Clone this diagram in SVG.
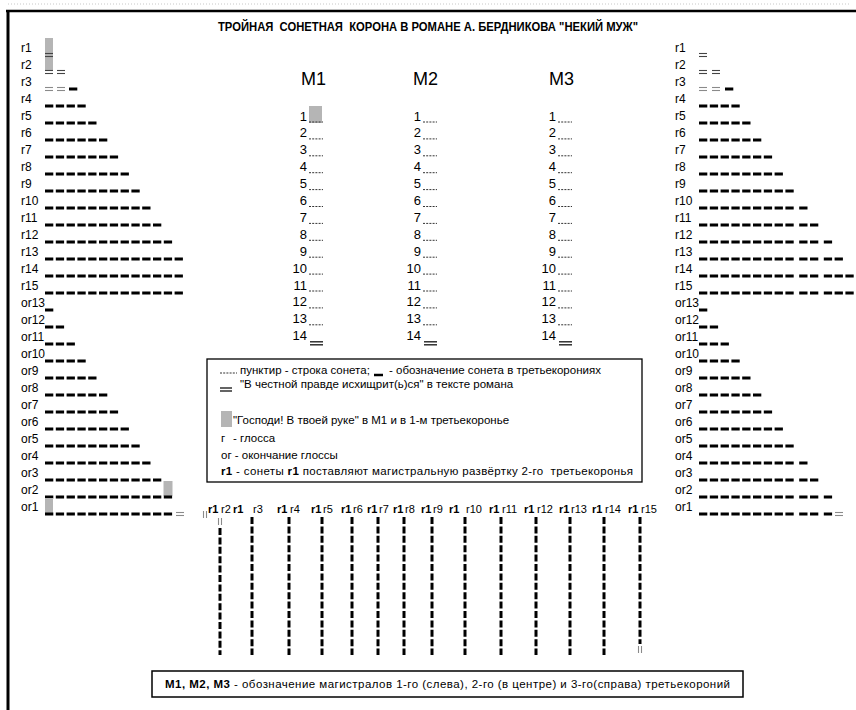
<svg xmlns="http://www.w3.org/2000/svg" width="856" height="710" viewBox="0 0 856 710">
<style>
text{font-family:"Liberation Sans",Arial,sans-serif;fill:#000}
.lb{font-size:12px}
.n{font-family:"Liberation Sans Narrow","Liberation Sans",Arial,sans-serif;font-size:13px;text-anchor:end}
.mh{font-size:18px}
.lg{font-size:11.5px}
.bt{font-size:11px}
.b{font-weight:bold}
.d{stroke:#000;stroke-width:3;stroke-dasharray:8.3 2.5;fill:none}
.vd{stroke:#000;stroke-width:3;stroke-dasharray:7 2.4;fill:none}
.dt{stroke:#333;stroke-width:1;stroke-dasharray:2 1.2}
.e{stroke:#444;stroke-width:1.1}
.eg{stroke:#8a8a8a;stroke-width:1.1}
.em{stroke:#222;stroke-width:1.4}
.gr{fill:#b5b5b5}
</style>
<defs>
<g id="eq"><line x1="0" y1="-1.5" x2="8" y2="-1.5"/><line x1="0" y1="1.5" x2="8" y2="1.5"/></g>
<g id="veq"><line x1="-1.5" y1="0" x2="-1.5" y2="7"/><line x1="1.5" y1="0" x2="1.5" y2="7"/></g>
</defs>
<g id="frame">
<line x1="8" y1="4" x2="850" y2="4" stroke="#c8c8c8" stroke-width="1" stroke-dasharray="1 2"/>
<line x1="6" y1="11" x2="856" y2="11" stroke="#000" stroke-width="2.5"/>
<line x1="8" y1="10" x2="8" y2="710" stroke="#000" stroke-width="3"/>
</g>
<g id="title">
<text x="428" y="31" text-anchor="middle" xml:space="preserve" style="font-family:'Liberation Sans Narrow','Liberation Sans',Arial,sans-serif;font-size:12.5px;font-weight:bold" textLength="420" lengthAdjust="spacingAndGlyphs">ТРОЙНАЯ  СОНЕТНАЯ  КОРОНА В РОМАНЕ А. БЕРДНИКОВА "НЕКИЙ МУЖ"</text>
</g>
<g id="left-crown">
<text class="lb" x="21" y="52">r1</text>
<text class="lb" x="21" y="69">r2</text>
<text class="lb" x="21" y="86">r3</text>
<text class="lb" x="21" y="103">r4</text>
<text class="lb" x="21" y="120">r5</text>
<text class="lb" x="21" y="137">r6</text>
<text class="lb" x="21" y="154">r7</text>
<text class="lb" x="21" y="171">r8</text>
<text class="lb" x="21" y="188">r9</text>
<text class="lb" x="21" y="205">r10</text>
<text class="lb" x="21" y="222">r11</text>
<text class="lb" x="21" y="239">r12</text>
<text class="lb" x="21" y="256">r13</text>
<text class="lb" x="21" y="273">r14</text>
<text class="lb" x="21" y="290">r15</text>
<text class="lb" x="21" y="307">or13</text>
<text class="lb" x="21" y="324">or12</text>
<text class="lb" x="21" y="341">or11</text>
<text class="lb" x="21" y="358">or10</text>
<text class="lb" x="21" y="375">or9</text>
<text class="lb" x="21" y="392">or8</text>
<text class="lb" x="21" y="409">or7</text>
<text class="lb" x="21" y="426">or6</text>
<text class="lb" x="21" y="443">or5</text>
<text class="lb" x="21" y="460">or4</text>
<text class="lb" x="21" y="477">or3</text>
<text class="lb" x="21" y="494">or2</text>
<text class="lb" x="21" y="511">or1</text>
<rect class="gr" x="45" y="38" width="8" height="33"/>
<use href="#eq" class="e" x="45" y="55"/>
<use href="#eq" class="e" x="45" y="72"/><use href="#eq" class="e" x="57" y="72"/>
<use href="#eq" class="eg" x="45" y="89"/><use href="#eq" class="eg" x="57" y="89"/>
<line class="d" x1="69" y1="89" x2="77.3" y2="89"/>
<line class="d" x1="45" y1="106" x2="85.7" y2="106"/>
<line class="d" x1="45" y1="123" x2="96.5" y2="123"/>
<line class="d" x1="45" y1="140" x2="107.3" y2="140"/>
<line class="d" x1="45" y1="157" x2="118.1" y2="157"/>
<line class="d" x1="45" y1="174" x2="128.9" y2="174"/>
<line class="d" x1="45" y1="191" x2="139.7" y2="191"/>
<line class="d" x1="45" y1="208" x2="150.5" y2="208"/>
<line class="d" x1="45" y1="225" x2="161.3" y2="225"/>
<line class="d" x1="45" y1="242" x2="172.1" y2="242"/>
<line class="d" x1="45" y1="259" x2="182.9" y2="259"/>
<line class="d" x1="45" y1="276" x2="182.9" y2="276"/>
<line class="d" x1="45" y1="293" x2="182.9" y2="293"/>
<line class="d" x1="45" y1="310" x2="53.3" y2="310"/>
<line class="d" x1="45" y1="327" x2="64.1" y2="327"/>
<line class="d" x1="45" y1="344" x2="74.9" y2="344"/>
<line class="d" x1="45" y1="361" x2="85.7" y2="361"/>
<line class="d" x1="45" y1="378" x2="96.5" y2="378"/>
<line class="d" x1="45" y1="395" x2="107.3" y2="395"/>
<line class="d" x1="45" y1="412" x2="118.1" y2="412"/>
<line class="d" x1="45" y1="429" x2="128.9" y2="429"/>
<line class="d" x1="45" y1="446" x2="139.7" y2="446"/>
<line class="d" x1="45" y1="463" x2="150.5" y2="463"/>
<line class="d" x1="45" y1="480" x2="161.3" y2="480"/>
<rect class="gr" x="163.5" y="481" width="9" height="15"/>
<line class="d" x1="45" y1="497" x2="172.1" y2="497"/>
<rect class="gr" x="45" y="498" width="8" height="15"/>
<line class="d" x1="45" y1="514" x2="172.1" y2="514"/>
<use href="#eq" class="eg" x="176" y="514"/>
</g>
<g id="right-crown">
<text class="lb" x="675" y="52">r1</text>
<text class="lb" x="675" y="69">r2</text>
<text class="lb" x="675" y="86">r3</text>
<text class="lb" x="675" y="103">r4</text>
<text class="lb" x="675" y="120">r5</text>
<text class="lb" x="675" y="137">r6</text>
<text class="lb" x="675" y="154">r7</text>
<text class="lb" x="675" y="171">r8</text>
<text class="lb" x="675" y="188">r9</text>
<text class="lb" x="675" y="205">r10</text>
<text class="lb" x="675" y="222">r11</text>
<text class="lb" x="675" y="239">r12</text>
<text class="lb" x="675" y="256">r13</text>
<text class="lb" x="675" y="273">r14</text>
<text class="lb" x="675" y="290">r15</text>
<text class="lb" x="675" y="307">or13</text>
<text class="lb" x="675" y="324">or12</text>
<text class="lb" x="675" y="341">or11</text>
<text class="lb" x="675" y="358">or10</text>
<text class="lb" x="675" y="375">or9</text>
<text class="lb" x="675" y="392">or8</text>
<text class="lb" x="675" y="409">or7</text>
<text class="lb" x="675" y="426">or6</text>
<text class="lb" x="675" y="443">or5</text>
<text class="lb" x="675" y="460">or4</text>
<text class="lb" x="675" y="477">or3</text>
<text class="lb" x="675" y="494">or2</text>
<text class="lb" x="675" y="511">or1</text>
<use href="#eq" class="e" x="699" y="55"/>
<use href="#eq" class="e" x="699" y="72"/><use href="#eq" class="e" x="712" y="72"/>
<use href="#eq" class="eg" x="699" y="89"/><use href="#eq" class="eg" x="712" y="89"/>
<line class="d" x1="725" y1="89" x2="733.3" y2="89"/>
<line class="d" x1="699" y1="106" x2="739.7" y2="106"/>
<line class="d" x1="699" y1="123" x2="750.5" y2="123"/>
<line class="d" x1="699" y1="140" x2="761.3" y2="140"/>
<line class="d" x1="699" y1="157" x2="772.1" y2="157"/>
<line class="d" x1="699" y1="174" x2="782.9" y2="174"/>
<line class="d" x1="699" y1="191" x2="793.7" y2="191"/>
<line class="d" x1="699" y1="208" x2="793.7" y2="208"/><line class="d" x1="799.2" y1="208" x2="807.5" y2="208"/>
<line class="d" x1="699" y1="225" x2="793.7" y2="225"/><line class="d" x1="799.2" y1="225" x2="818.3" y2="225"/>
<line class="d" x1="699" y1="242" x2="793.7" y2="242"/><line class="d" x1="799.2" y1="242" x2="818.3" y2="242"/><line class="d" x1="823.8" y1="242" x2="832.1" y2="242"/>
<line class="d" x1="699" y1="259" x2="793.7" y2="259"/><line class="d" x1="799.2" y1="259" x2="818.3" y2="259"/><line class="d" x1="823.8" y1="259" x2="842.9" y2="259"/>
<line class="d" x1="699" y1="276" x2="793.7" y2="276"/><line class="d" x1="799.2" y1="276" x2="818.3" y2="276"/><line class="d" x1="823.8" y1="276" x2="853.7" y2="276"/>
<line class="d" x1="699" y1="293" x2="793.7" y2="293"/><line class="d" x1="799.2" y1="293" x2="818.3" y2="293"/><line class="d" x1="823.8" y1="293" x2="853.7" y2="293"/>
<line class="d" x1="699" y1="310" x2="707.3" y2="310"/>
<line class="d" x1="699" y1="327" x2="718.1" y2="327"/>
<line class="d" x1="699" y1="344" x2="728.9" y2="344"/>
<line class="d" x1="699" y1="361" x2="739.7" y2="361"/>
<line class="d" x1="699" y1="378" x2="750.5" y2="378"/>
<line class="d" x1="699" y1="395" x2="761.3" y2="395"/>
<line class="d" x1="699" y1="412" x2="772.1" y2="412"/>
<line class="d" x1="699" y1="429" x2="782.9" y2="429"/>
<line class="d" x1="699" y1="446" x2="793.7" y2="446"/>
<line class="d" x1="699" y1="463" x2="793.7" y2="463"/><line class="d" x1="799.2" y1="463" x2="807.5" y2="463"/>
<line class="d" x1="699" y1="480" x2="793.7" y2="480"/><line class="d" x1="799.2" y1="480" x2="818.3" y2="480"/>
<line class="d" x1="699" y1="497" x2="793.7" y2="497"/><line class="d" x1="799.2" y1="497" x2="818.3" y2="497"/><line class="d" x1="823.8" y1="497" x2="832.1" y2="497"/>
<line class="d" x1="699" y1="514" x2="793.7" y2="514"/><line class="d" x1="799.2" y1="514" x2="818.3" y2="514"/><line class="d" x1="823.8" y1="514" x2="832.1" y2="514"/>
<use href="#eq" class="eg" x="835" y="514"/>
</g>
<g id="M1">
<text class="mh" x="301" y="85">M1</text>
<rect class="gr" x="309" y="106" width="13" height="17"/>
<text class="n" x="307" y="120.5">1</text><line class="dt" x1="309" y1="122" x2="323" y2="122"/>
<text class="n" x="307" y="137.4">2</text><line class="dt" x1="309" y1="138.9" x2="323" y2="138.9"/>
<text class="n" x="307" y="154.3">3</text><line class="dt" x1="309" y1="155.8" x2="323" y2="155.8"/>
<text class="n" x="307" y="171.2">4</text><line class="dt" x1="309" y1="172.7" x2="323" y2="172.7"/>
<text class="n" x="307" y="188.1">5</text><line class="dt" x1="309" y1="189.6" x2="323" y2="189.6"/>
<text class="n" x="307" y="205">6</text><line class="dt" x1="309" y1="206.5" x2="323" y2="206.5"/>
<text class="n" x="307" y="221.9">7</text><line class="dt" x1="309" y1="223.4" x2="323" y2="223.4"/>
<text class="n" x="307" y="238.8">8</text><line class="dt" x1="309" y1="240.3" x2="323" y2="240.3"/>
<text class="n" x="307" y="255.7">9</text><line class="dt" x1="309" y1="257.2" x2="323" y2="257.2"/>
<text class="n" x="307" y="272.6">10</text><line class="dt" x1="309" y1="274.1" x2="323" y2="274.1"/>
<text class="n" x="307" y="289.5">11</text><line class="dt" x1="309" y1="291" x2="323" y2="291"/>
<text class="n" x="307" y="306.4">12</text><line class="dt" x1="309" y1="307.9" x2="323" y2="307.9"/>
<text class="n" x="307" y="323.3">13</text><line class="dt" x1="309" y1="324.8" x2="323" y2="324.8"/>
<text class="n" x="307" y="340.2">14</text><line class="em" x1="310" y1="341.8" x2="323" y2="341.8"/><line class="em" x1="310" y1="344.8" x2="323" y2="344.8"/>
</g>
<g id="M2">
<text class="mh" x="413" y="85">M2</text>
<text class="n" x="421" y="120.5">1</text><line class="dt" x1="423" y1="122" x2="437" y2="122"/>
<text class="n" x="421" y="137.4">2</text><line class="dt" x1="423" y1="138.9" x2="437" y2="138.9"/>
<text class="n" x="421" y="154.3">3</text><line class="dt" x1="423" y1="155.8" x2="437" y2="155.8"/>
<text class="n" x="421" y="171.2">4</text><line class="dt" x1="423" y1="172.7" x2="437" y2="172.7"/>
<text class="n" x="421" y="188.1">5</text><line class="dt" x1="423" y1="189.6" x2="437" y2="189.6"/>
<text class="n" x="421" y="205">6</text><line class="dt" x1="423" y1="206.5" x2="437" y2="206.5"/>
<text class="n" x="421" y="221.9">7</text><line class="dt" x1="423" y1="223.4" x2="437" y2="223.4"/>
<text class="n" x="421" y="238.8">8</text><line class="dt" x1="423" y1="240.3" x2="437" y2="240.3"/>
<text class="n" x="421" y="255.7">9</text><line class="dt" x1="423" y1="257.2" x2="437" y2="257.2"/>
<text class="n" x="421" y="272.6">10</text><line class="dt" x1="423" y1="274.1" x2="437" y2="274.1"/>
<text class="n" x="421" y="289.5">11</text><line class="dt" x1="423" y1="291" x2="437" y2="291"/>
<text class="n" x="421" y="306.4">12</text><line class="dt" x1="423" y1="307.9" x2="437" y2="307.9"/>
<text class="n" x="421" y="323.3">13</text><line class="dt" x1="423" y1="324.8" x2="437" y2="324.8"/>
<text class="n" x="421" y="340.2">14</text><line class="em" x1="424" y1="341.8" x2="437" y2="341.8"/><line class="em" x1="424" y1="344.8" x2="437" y2="344.8"/>
</g>
<g id="M3">
<text class="mh" x="549" y="85">M3</text>
<text class="n" x="556" y="120.5">1</text><line class="dt" x1="558" y1="122" x2="572" y2="122"/>
<text class="n" x="556" y="137.4">2</text><line class="dt" x1="558" y1="138.9" x2="572" y2="138.9"/>
<text class="n" x="556" y="154.3">3</text><line class="dt" x1="558" y1="155.8" x2="572" y2="155.8"/>
<text class="n" x="556" y="171.2">4</text><line class="dt" x1="558" y1="172.7" x2="572" y2="172.7"/>
<text class="n" x="556" y="188.1">5</text><line class="dt" x1="558" y1="189.6" x2="572" y2="189.6"/>
<text class="n" x="556" y="205">6</text><line class="dt" x1="558" y1="206.5" x2="572" y2="206.5"/>
<text class="n" x="556" y="221.9">7</text><line class="dt" x1="558" y1="223.4" x2="572" y2="223.4"/>
<text class="n" x="556" y="238.8">8</text><line class="dt" x1="558" y1="240.3" x2="572" y2="240.3"/>
<text class="n" x="556" y="255.7">9</text><line class="dt" x1="558" y1="257.2" x2="572" y2="257.2"/>
<text class="n" x="556" y="272.6">10</text><line class="dt" x1="558" y1="274.1" x2="572" y2="274.1"/>
<text class="n" x="556" y="289.5">11</text><line class="dt" x1="558" y1="291" x2="572" y2="291"/>
<text class="n" x="556" y="306.4">12</text><line class="dt" x1="558" y1="307.9" x2="572" y2="307.9"/>
<text class="n" x="556" y="323.3">13</text><line class="dt" x1="558" y1="324.8" x2="572" y2="324.8"/>
<text class="n" x="556" y="340.2">14</text><line class="em" x1="559" y1="341.8" x2="572" y2="341.8"/><line class="em" x1="559" y1="344.8" x2="572" y2="344.8"/>
</g>
<g id="legend">
<rect x="207" y="359" width="435" height="123" fill="none" stroke="#000" stroke-width="1.3"/>
<line class="dt" x1="220" y1="373" x2="237" y2="373"/>
<text class="lg" x="240" y="373.5">пунктир - строка сонета;</text>
<line x1="374" y1="375" x2="383" y2="375" stroke="#000" stroke-width="2.5"/>
<text class="lg" x="389" y="373.5">- обозначение сонета в третьекорониях</text>
<line class="em" x1="220" y1="388" x2="232" y2="388"/><line class="em" x1="220" y1="391" x2="232" y2="391"/>
<text class="lg" x="240" y="387.5">"В честной правде исхищрит(ь)ся" в тексте романа</text>
<rect class="gr" x="221" y="411" width="11" height="16"/>
<text class="lg" x="233" y="424">"Господи! В твоей руке" в М1 и в 1-м третьекоронье</text>
<text class="lg" x="221" y="442">г</text>
<text class="lg" x="233" y="442">- глосса</text>
<text class="lg" x="221" y="459">ог - окончание глоссы</text>
<text class="lg" x="221" y="475" xml:space="preserve" textLength="412"><tspan class="b">r1</tspan> - сонеты <tspan class="b">r1</tspan> поставляют магистральную развёртку 2-го  третьекоронья</text>
</g>
<g id="second-crown">
<use href="#veq" class="eg" x="205" y="511"/>
<text class="bt b" x="208" y="513">r1</text><text class="bt" x="221" y="513">r2</text>
<text class="bt b" x="233" y="513">r1</text><text class="bt" x="253" y="513">r3</text>
<text class="bt b" x="277" y="513">r1</text><text class="bt" x="290" y="513">r4</text>
<text class="bt b" x="311" y="513">r1</text><text class="bt" x="323" y="513">r5</text>
<text class="bt b" x="341" y="513">r1</text><text class="bt" x="353" y="513">r6</text>
<text class="bt b" x="367" y="513">r1</text><text class="bt" x="379" y="513">r7</text>
<text class="bt b" x="393" y="513">r1</text><text class="bt" x="405" y="513">r8</text>
<text class="bt b" x="421" y="513">r1</text><text class="bt" x="433" y="513">r9</text>
<text class="bt b" x="449" y="513">r1</text><text class="bt" x="466" y="513">r10</text>
<text class="bt b" x="489" y="513">r1</text><text class="bt" x="502" y="513">r11</text>
<text class="bt b" x="524" y="513">r1</text><text class="bt" x="537" y="513">r12</text>
<text class="bt b" x="559" y="513">r1</text><text class="bt" x="571" y="513">r13</text>
<text class="bt b" x="592" y="513">r1</text><text class="bt" x="605" y="513">r14</text>
<text class="bt b" x="628" y="513">r1</text><text class="bt" x="641" y="513">r15</text>
</g>
<g id="connectors">
<use href="#veq" class="eg" x="220" y="518"/>
<line class="vd" x1="220" y1="528" x2="220" y2="655"/>
<line class="vd" x1="252" y1="517" x2="252" y2="655"/>
<line class="vd" x1="289" y1="517" x2="289" y2="655"/>
<line class="vd" x1="322" y1="517" x2="322" y2="655"/>
<line class="vd" x1="352" y1="517" x2="352" y2="655"/>
<line class="vd" x1="378" y1="517" x2="378" y2="655"/>
<line class="vd" x1="404" y1="517" x2="404" y2="655"/>
<line class="vd" x1="432" y1="517" x2="432" y2="655"/>
<line class="vd" x1="465" y1="517" x2="465" y2="655"/>
<line class="vd" x1="501" y1="517" x2="501" y2="655"/>
<line class="vd" x1="536" y1="517" x2="536" y2="655"/>
<line class="vd" x1="570" y1="517" x2="570" y2="655"/>
<line class="vd" x1="604" y1="517" x2="604" y2="655"/>
<line class="vd" x1="640" y1="517" x2="640" y2="644"/>
<use href="#veq" class="eg" x="640" y="646"/>
</g>
<g id="note">
<rect x="152" y="671" width="591" height="26" fill="none" stroke="#000" stroke-width="1.5"/>
<text class="lg" x="165" y="688" textLength="565"><tspan class="b">M1, M2, M3</tspan> - обозначение магистралов 1-го (слева), 2-го (в центре) и 3-го(справа) третьекороний</text>
</g>
</svg>
